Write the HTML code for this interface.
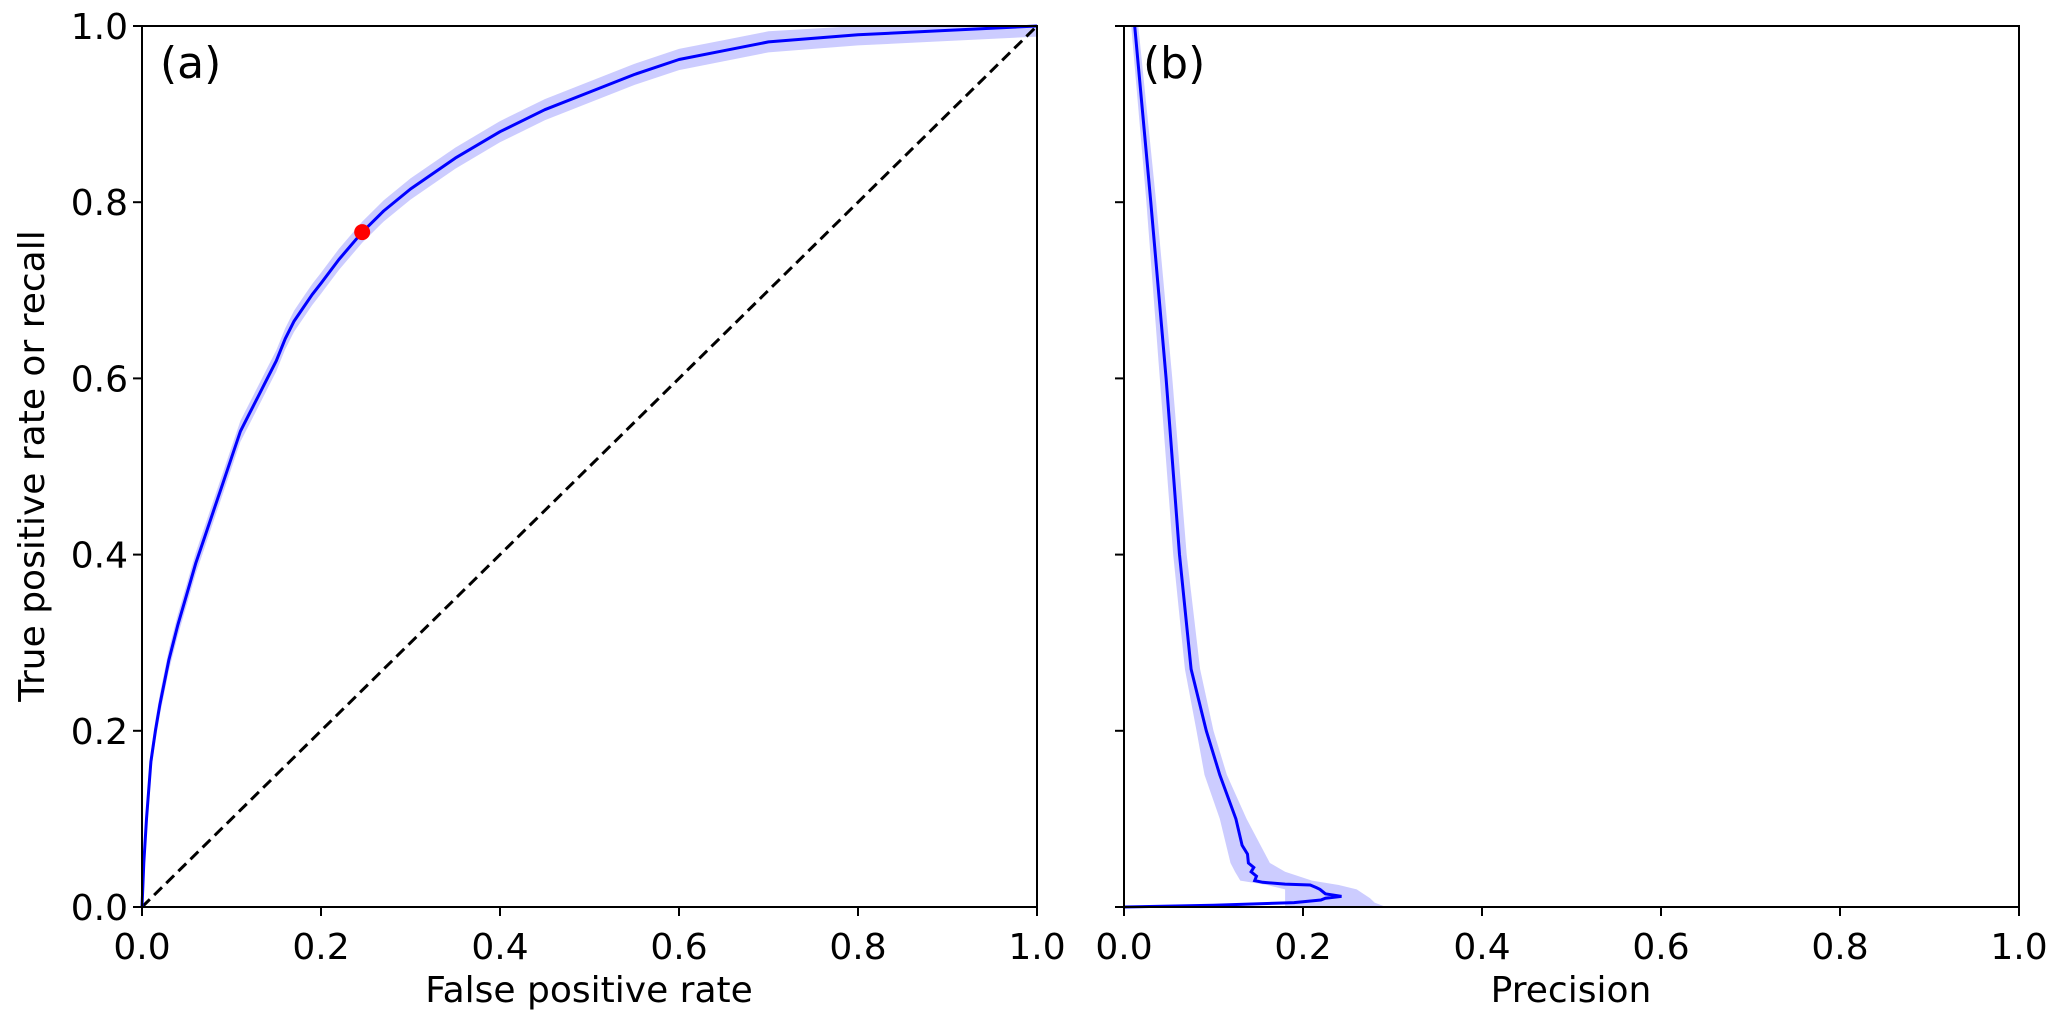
<!DOCTYPE html>
<html><head><meta charset="utf-8"><style>
html,body{margin:0;padding:0;background:#fff;}
svg{display:block;}
text{font-family:"DejaVu Sans","Liberation Sans",sans-serif;fill:#000;}
</style></head><body>
<svg id="chart" width="2067" height="1020" viewBox="0 0 2067 1020" xmlns="http://www.w3.org/2000/svg"></svg>
<script>
// ROC data (panel a)
const rocFpr = [0,0.002,0.005,0.01,0.015,0.02,0.03,0.04,0.05,0.06,0.07,0.08,0.09,0.1,0.11,0.12,0.13,0.14,0.15,0.16,0.17,0.18,0.19,0.2,0.22,0.246,0.27,0.3,0.35,0.4,0.45,0.5,0.55,0.6,0.65,0.7,0.8,0.9,1];
const rocTpr = [0,0.05,0.1,0.165,0.2,0.23,0.28,0.32,0.355,0.39,0.42,0.45,0.48,0.51,0.54,0.56,0.58,0.60,0.62,0.645,0.665,0.68,0.695,0.708,0.735,0.766,0.79,0.815,0.85,0.88,0.905,0.925,0.945,0.962,0.972,0.982,0.99,0.995,1];
const rocBand = 0.012;
const opPoint = [0.246, 0.766];
// PR data (panel b): recall and precision
const prRecall = [1.0,0.8,0.6,0.4,0.27,0.2,0.15,0.1,0.07,0.06,0.05,0.045,0.04,0.035,0.03,0.028,0.026,0.025,0.022,0.02,0.015,0.012,0.01,0.008,0.005,0.002,0];
const prPrec =   [0.012,0.03,0.047,0.062,0.075,0.092,0.107,0.125,0.132,0.138,0.139,0.145,0.142,0.148,0.146,0.155,0.18,0.208,0.215,0.219,0.225,0.243,0.225,0.22,0.19,0.1,0.0];
const prBandRecall = [1.0,0.8,0.6,0.4,0.27,0.2,0.15,0.1,0.05,0.04,0.03,0.025,0.02,0.01,0.005,0];
const prBandLo =     [0.008,0.025,0.04,0.055,0.068,0.081,0.09,0.107,0.119,0.124,0.13,0.16,0.18,0.18,0.18,0.18];
const prBandHi =     [0.016,0.036,0.054,0.07,0.085,0.10,0.115,0.137,0.163,0.18,0.21,0.24,0.26,0.275,0.28,0.293];
const prBaseEnd = 0.335;
const xTicks = [0,0.2,0.4,0.6,0.8,1.0];
const yTicks = [0,0.2,0.4,0.6,0.8,1.0];
const tickLabels = ["0.0","0.2","0.4","0.6","0.8","1.0"];

const NS="http://www.w3.org/2000/svg";
const svg=document.getElementById('chart');
function el(tag,attrs,parent){const e=document.createElementNS(NS,tag);for(const k in attrs)e.setAttribute(k,attrs[k]);(parent||svg).appendChild(e);return e;}
const yTop=26,yBot=907;
function makeAxes(x0,x1){return {sx:v=>x0+v*(x1-x0),sy:v=>yBot-v*(yBot-yTop),x0,x1};}
const A=makeAxes(142,1037), B=makeAxes(1124,2019);
function pts(xs,ys,ax){return xs.map((x,i)=>ax.sx(x).toFixed(1)+','+ax.sy(ys[i]).toFixed(1)).join(' ');}

// Panel a
let g=el('g',{});


let band=el('polygon',{points:pts(rocFpr,rocTpr.map(v=>Math.min(1,v+rocBand)),A)+' '+pts(rocFpr.slice().reverse(),rocTpr.slice().reverse().map(v=>Math.max(0,v-rocBand)),A),fill:'#0000ff',opacity:0.2,stroke:'none'},g);


let diag=el('line',{x1:A.sx(0),y1:A.sy(0),x2:A.sx(1),y2:A.sy(1),stroke:'#000','stroke-width':3,'stroke-dasharray':'11,6'},g);


let roc=el('polyline',{points:pts(rocFpr,rocTpr,A),fill:'none',stroke:'#0000ff','stroke-width':3,'stroke-linejoin':'round'},g);


let dot=el('circle',{cx:A.sx(opPoint[0]),cy:A.sy(opPoint[1]),r:8,fill:'#ff0000'},g);



// Panel b
let g2=el('g',{});


let band2=el('polygon',{points:pts(prBandLo,prBandRecall,B)+' '+pts(prBandHi.slice().reverse(),prBandRecall.slice().reverse(),B),fill:'#0000ff',opacity:0.2,stroke:'none'},g2);


let pr=el('polyline',{points:pts(prPrec,prRecall,B),fill:'none',stroke:'#0000ff','stroke-width':3},g2);


let base=el('line',{x1:B.sx(0),y1:B.sy(0),x2:B.sx(prBaseEnd),y2:B.sy(0),stroke:'#0000ff','stroke-width':2},g2);



function frame(ax,name,showY){
  let r=el('rect',{x:ax.x0,y:yTop,width:ax.x1-ax.x0,height:yBot-yTop,fill:'none',stroke:'#000','stroke-width':2});
  
  
  xTicks.forEach((t,i)=>{
    let x=ax.sx(t);
    el('line',{x1:x,y1:yBot,x2:x,y2:yBot+9,stroke:'#000','stroke-width':2});
    let tx=el('text',{x:x,y:yBot+52,'font-size':36,'text-anchor':'middle'});
    tx.textContent=tickLabels[i];
    
    
  });
  yTicks.forEach((t,i)=>{
    let y=ax.sy(t);
    el('line',{x1:ax.x0-9,y1:y,x2:ax.x0,y2:y,stroke:'#000','stroke-width':2});
    if(showY){
      let ty=el('text',{x:ax.x0-14,y:y+13,'font-size':36,'text-anchor':'end'});
      ty.textContent=tickLabels[i];
      
      
    }
  });
}
frame(A,'roc',true);
frame(B,'pr',false);
</script>
<svg style="position:absolute;left:0;top:0" width="2067" height="1020" xmlns="http://www.w3.org/2000/svg">
<text x="160" y="78" font-size="44" style="font-family:'DejaVu Sans','Liberation Sans',sans-serif">(a)</text>
<text x="1143" y="78" font-size="44" style="font-family:'DejaVu Sans','Liberation Sans',sans-serif">(b)</text>
<text x="589" y="1002" font-size="36" text-anchor="middle" style="font-family:'DejaVu Sans','Liberation Sans',sans-serif">False positive rate</text>
<text x="1571" y="1002" font-size="36" text-anchor="middle" style="font-family:'DejaVu Sans','Liberation Sans',sans-serif">Precision</text>
<text x="44" y="466" font-size="36" text-anchor="middle" transform="rotate(-90 44 466)" style="font-family:'DejaVu Sans','Liberation Sans',sans-serif">True positive rate or recall</text>
</svg>
</body></html>
